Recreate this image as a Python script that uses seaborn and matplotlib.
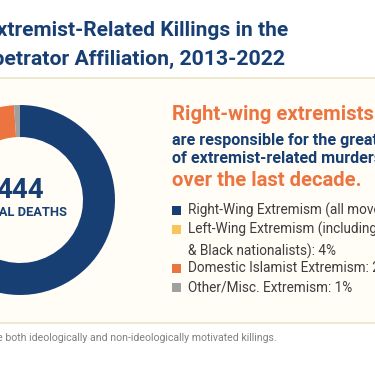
import matplotlib.pyplot as plt
import seaborn as sns
from matplotlib.patches import Rectangle

# data
categories = ['Right-Wing Extremism', 'Left-Wing Extremism', 'Domestic Islamist Extremism', 'Other/Misc. Extremism']
shares = [75, 4, 20, 1]
total_deaths = 444
legend_labels = [
    'Right-Wing Extremism (all movements): 75%',
    'Left-Wing Extremism (including anarchists\n& Black nationalists): 4%',
    'Domestic Islamist Extremism: 20%',
    'Other/Misc. Extremism: 1%',
]

sns.set_theme(style='white')
plt.rcParams['font.family'] = ['Roboto', 'DejaVu Sans']

navy = '#173f74'
orange = '#ec7440'
colors = sns.color_palette([navy, '#f7c45e', orange, '#a0a0a0'])

W, H = 375, 366
fig = plt.figure(figsize=(W / 100, H / 100), dpi=100)
fig.patch.set_facecolor('white')

def fx(x):
    return x / W

def fy(y):
    return 1 - y / H

# cream panel with thin borders (kept behind the donut)
fig.patches.append(Rectangle((0, fy(323)), 1, fy(78) - fy(323), transform=fig.transFigure,
                             facecolor='#fffdf6', edgecolor='none', zorder=-5))
for yy in (78, 323):
    fig.lines.append(plt.Line2D([0, 1], [fy(yy), fy(yy)], transform=fig.transFigure,
                                color='#ebe4c6', lw=1.2, zorder=-4))

# donut
cx, cy, r = 20, 200, 95
ax = fig.add_axes([fx(cx - 100), fy(cy + 100), 200 / W, 200 / H], zorder=2)
ax.patch.set_alpha(0)
ax.pie(shares, colors=colors, startangle=90, counterclock=False, radius=r / 100,
       wedgeprops=dict(width=32 / 100, edgecolor='none'))
ax.set_xlim(-1, 1)
ax.set_ylim(-1, 1)
ax.set_aspect('equal')
ax.axis('off')
ax.text(0, 0.1, f'{total_deaths}', ha='center', va='center', fontsize=20, fontweight='bold', color=navy)
ax.text(0, -0.12, 'TOTAL DEATHS', ha='center', va='center', fontsize=9.3, fontweight='bold', color=navy)

# title
fig.text(fx(288), fy(31), 'Extremist-Related Killings in the', ha='right', va='center',
         fontsize=15, fontweight='bold', color=navy)
fig.text(fx(285), fy(59), 'U.S. by Perpetrator Affiliation, 2013-2022', ha='right', va='center',
         fontsize=15.3, fontweight='bold', color=navy)

# callout text
x0 = fx(172)
fig.text(x0, fy(115), 'Right-wing extremists', ha='left', va='center', fontsize=14.6, fontweight='bold', color=orange)
fig.text(x0, fy(140), 'are responsible for the greatest number', ha='left', va='center', fontsize=11.6, fontweight='bold', color=navy)
fig.text(x0, fy(159), 'of extremist-related murders in the U.S.', ha='left', va='center', fontsize=11.6, fontweight='bold', color=navy)
fig.text(x0, fy(180), 'over the last decade.', ha='left', va='center', fontsize=14.6, fontweight='bold', color=orange)

# legend
rows = [210, 229, 268, 287]
for y, c, lab in zip(rows, colors, legend_labels):
    fig.patches.append(Rectangle((fx(172), fy(y + 4.5)), 9 / W, 9 / H, transform=fig.transFigure,
                                 facecolor=c, edgecolor='none'))
    fig.text(fx(188), fy(y - 7), lab, ha='left', va='top', fontsize=9.8, color='#3d3d3d',
             linespacing=1.5)

# footnote
fig.text(fx(277), fy(338), 'Note: Figures include both ideologically and non-ideologically motivated killings.',
         ha='right', va='center', fontsize=7.6, color='#808080')

fig.savefig('out.png', dpi=100, facecolor=fig.get_facecolor())
